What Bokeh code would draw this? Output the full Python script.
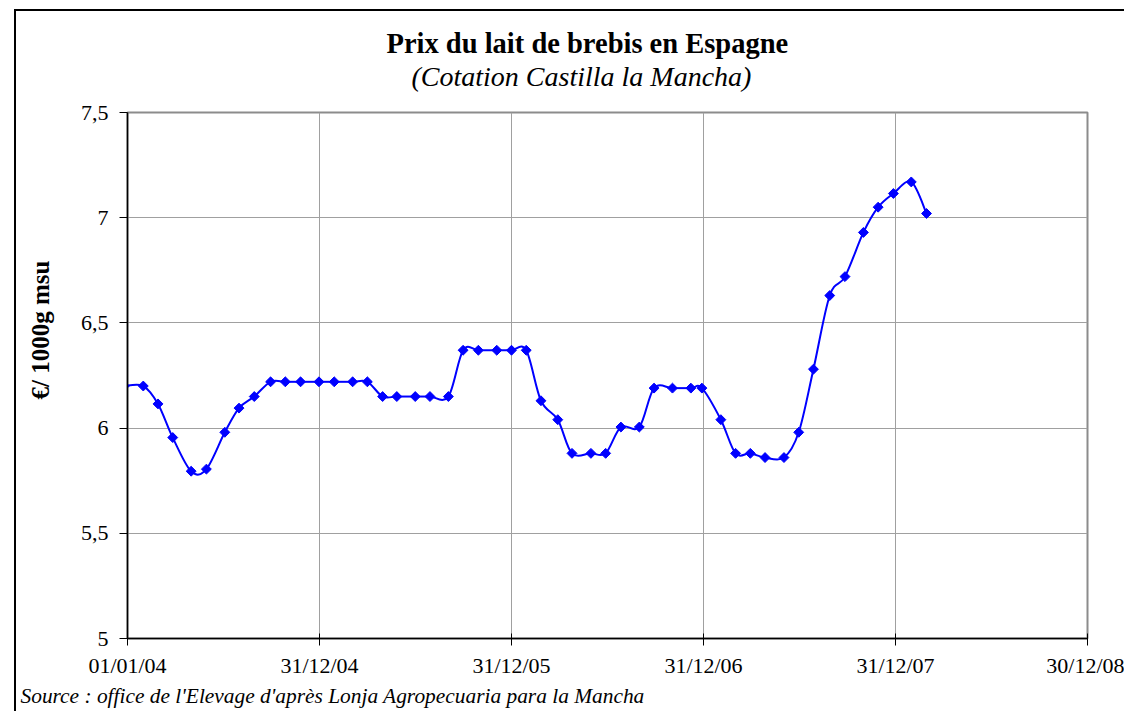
import numpy as np
import pandas as pd
from bokeh.plotting import figure
from bokeh.models import Range1d, FixedTicker, DatetimeTickFormatter, Title
from bokeh.embed import file_html
from bokeh.resources import INLINE

# ---------------- data ----------------
dates = ["2003-12-26",
         "2004-01-31", "2004-02-28", "2004-03-27", "2004-05-01", "2004-05-30", "2004-07-04",
         "2004-07-31", "2004-08-29", "2004-09-29", "2004-10-27", "2004-11-25", "2004-12-30",
         "2005-01-28", "2005-03-04", "2005-04-01", "2005-04-30", "2005-05-27", "2005-07-01",
         "2005-07-29", "2005-09-02", "2005-09-30", "2005-10-29", "2005-12-03", "2005-12-31",
         "2006-01-28", "2006-02-25", "2006-03-29", "2006-04-25", "2006-05-31", "2006-06-28",
         "2006-07-27", "2006-08-31", "2006-09-28", "2006-11-02", "2006-12-07", "2006-12-28",
         "2007-02-02", "2007-03-02", "2007-03-30", "2007-04-27", "2007-06-02", "2007-06-30",
         "2007-07-28", "2007-08-28", "2007-09-26", "2007-10-31", "2007-11-28", "2007-12-27",
         "2008-01-30", "2008-02-28"]
prices = [6.20,
          6.20, 6.115, 5.955, 5.795, 5.805, 5.98, 6.095, 6.15, 6.22, 6.22, 6.22, 6.22,
          6.22, 6.22, 6.22, 6.15, 6.15, 6.15, 6.15, 6.15, 6.37, 6.37, 6.37, 6.37,
          6.37, 6.13, 6.04, 5.88, 5.88, 5.88, 6.005, 6.005, 6.19, 6.19, 6.19, 6.19,
          6.04, 5.88, 5.88, 5.86, 5.86, 5.98, 6.28, 6.63, 6.72, 6.93, 7.05, 7.115,
          7.17, 7.02]
x_tick_dates = ["2004-01-01", "2004-12-31", "2005-12-31", "2006-12-31", "2007-12-31", "2008-12-30"]
y_ticks = [5.0, 5.5, 6.0, 6.5, 7.0, 7.5]
y_tick_labels = ["5", "5,5", "6", "6,5", "7", "7,5"]

title_text = "Prix du lait de brebis en Espagne"
subtitle_text = "(Cotation Castilla la Mancha)"
ylabel_text = "€/ 1000g msu"
source_text = "Source : office de l'Elevage d'après Lonja Agropecuaria para la Mancha"

# ---------------- helpers ----------------
def to_ms(d):
    return pd.Timestamp(d).value / 1e6

xs = np.array([to_ms(d) for d in dates])
ys = np.array(prices, dtype=float)
xticks = [to_ms(d) for d in x_tick_dates]

# smoothed line (Catmull-Rom -> cubic Bezier segments), like a spreadsheet "smoothed line"
n = len(xs)
i0 = np.arange(n - 1)
im1 = np.maximum(i0 - 1, 0)
ip2 = np.minimum(i0 + 2, n - 1)
cx0 = xs[i0] + (xs[i0 + 1] - xs[im1]) / 6.0
cy0 = ys[i0] + (ys[i0 + 1] - ys[im1]) / 6.0
cx1 = xs[i0 + 1] - (xs[ip2] - xs[i0]) / 6.0
cy1 = ys[i0 + 1] - (ys[ip2] - ys[i0]) / 6.0

FONT = "Liberation Serif"
W, H = 1124, 711
FL, FT, FR, FB = 127, 112, 1087, 638   # plot frame in page pixels

p = figure(width=W, height=H, x_axis_type="datetime",
           x_range=Range1d(xticks[0], xticks[-1]), y_range=Range1d(5, 7.5),
           output_backend="svg", toolbar_location=None,
           min_border_left=FL, min_border_right=W - FR,
           min_border_top=FT, min_border_bottom=H - FB)
p.background_fill_color = "white"
p.border_fill_alpha = 0
# outer chart-area border (left & top edges) drawn behind the transparent canvas
p.styles = {"background": "linear-gradient(#000,#000) 14px 9px / 2px 760px no-repeat, "
                          "linear-gradient(#000,#000) 14px 9px / 1200px 2px no-repeat, #ffffff"}
p.outline_line_color = "#8c8c8c"
p.outline_line_width = 2

# axes
p.xaxis.ticker = FixedTicker(ticks=xticks)
p.xaxis.formatter = DatetimeTickFormatter(days="%d/%m/%y", months="%d/%m/%y", years="%d/%m/%y",
                                          hours="%d/%m/%y", minutes="%d/%m/%y")
p.yaxis.ticker = FixedTicker(ticks=y_ticks)
p.yaxis.major_label_overrides = dict(zip(y_ticks, y_tick_labels))
for ax in (p.xaxis[0], p.yaxis[0]):
    ax.major_label_text_font = FONT
    ax.major_label_text_font_size = "22px"
    ax.major_label_text_color = "black"
    ax.axis_line_color = "black"
    ax.axis_line_width = 1.5
    ax.major_tick_line_color = "black"
    ax.major_tick_line_width = 1
    ax.minor_tick_line_color = None
p.xaxis.major_tick_in = 5
p.xaxis.major_tick_out = 7
p.xaxis.major_label_standoff = 7
p.yaxis.major_tick_in = 0
p.yaxis.major_tick_out = 8
p.yaxis.major_label_standoff = 11

p.xgrid.ticker = FixedTicker(ticks=xticks)
p.ygrid.ticker = FixedTicker(ticks=y_ticks)
for g in (p.xgrid[0], p.ygrid[0]):
    g.grid_line_color = "#a0a0a0"
    g.grid_line_width = 1

# series
p.bezier(x0=xs[:-1], y0=ys[:-1], x1=xs[1:], y1=ys[1:], cx0=cx0, cy0=cy0, cx1=cx1, cy1=cy1,
         line_color="#0000ff", line_width=2)
p.scatter(xs, ys, marker="square", angle=np.pi / 4, size=7,
          fill_color="#0000ff", line_color="#0000ff")

# titles and side texts (offsets measured from the frame's left / bottom edge)
p.add_layout(Title(text=subtitle_text, align="left", offset=284, standoff=42,
                   text_font="Times New Roman", text_font_style="italic", text_font_size="28px",
                   text_color="black"), "above")
p.add_layout(Title(text=title_text, align="left", offset=259, standoff=-42,
                   text_font=FONT, text_font_style="bold", text_font_size="28.5px",
                   text_color="black"), "above")
p.add_layout(Title(text=ylabel_text, align="left", offset=239, standoff=48,
                   text_font=FONT, text_font_style="bold", text_font_size="25px",
                   text_color="black"), "left")
p.add_layout(Title(text=source_text, align="left", offset=-107, standoff=3,
                   text_font=FONT, text_font_style="italic", text_font_size="21.4px",
                   text_color="black"), "below")

open("out.html", "w").write(file_html(p, INLINE))
